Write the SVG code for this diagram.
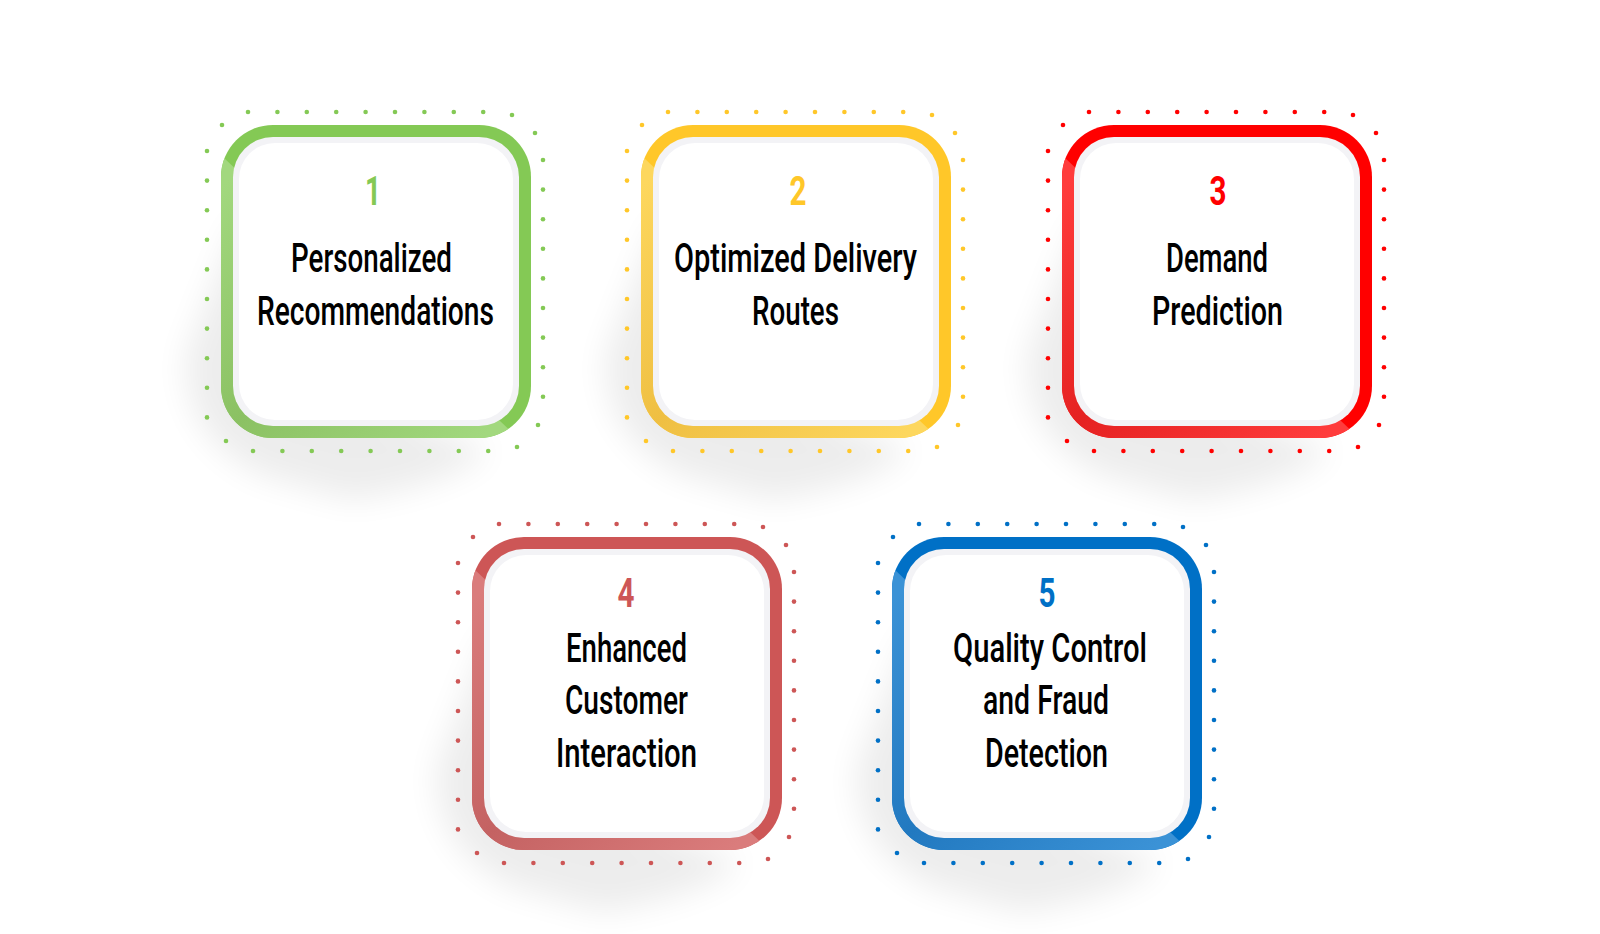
<svg xmlns="http://www.w3.org/2000/svg" xmlns:xlink="http://www.w3.org/1999/xlink" width="1600" height="934" viewBox="0 0 1600 934">
<style>
.title{font-family:Roboto,"Liberation Sans",sans-serif;font-size:40px;font-weight:500;fill:#000;text-anchor:middle}
.num{font-family:Roboto,"Liberation Sans",sans-serif;font-size:41px;font-weight:700;text-anchor:middle}
.ring2{fill:#f3f3f6}
.inner{fill:#ffffff}
.shadow{fill:#000;opacity:0.07;filter:url(#blur)}
</style>
<defs>
<filter id="blur" x="-50%" y="-50%" width="200%" height="200%"><feGaussianBlur stdDeviation="16"/></filter>
<clipPath id="lowerLeft"><polygon points="-20,11 320,335 -20,335"/></clipPath>
<linearGradient id="gGreen" x1="0" y1="0" x2="1" y2="1"><stop offset="0.1" stop-color="#a2d87e"/><stop offset="0.5" stop-color="#8bc163"/><stop offset="0.92" stop-color="#a2d87e"/></linearGradient>
<linearGradient id="gYellow" x1="0" y1="0" x2="1" y2="1"><stop offset="0.1" stop-color="#fdd75e"/><stop offset="0.5" stop-color="#efbf42"/><stop offset="0.92" stop-color="#fdd75e"/></linearGradient>
<linearGradient id="gRed" x1="0" y1="0" x2="1" y2="1"><stop offset="0.1" stop-color="#ff3c3c"/><stop offset="0.5" stop-color="#e52222"/><stop offset="0.92" stop-color="#ff3c3c"/></linearGradient>
<linearGradient id="gRose" x1="0" y1="0" x2="1" y2="1"><stop offset="0.1" stop-color="#da7c7c"/><stop offset="0.5" stop-color="#c46262"/><stop offset="0.92" stop-color="#da7c7c"/></linearGradient>
<linearGradient id="gBlue" x1="0" y1="0" x2="1" y2="1"><stop offset="0.1" stop-color="#3b92d6"/><stop offset="0.5" stop-color="#2279c0"/><stop offset="0.92" stop-color="#3b92d6"/></linearGradient>
<g id="dots" fill="currentColor">
<circle cx="1" cy="0" r="2.3"/>
<circle cx="27" cy="-13" r="2.3"/><circle cx="56.4" cy="-13" r="2.3"/><circle cx="85.8" cy="-13" r="2.3"/><circle cx="115.2" cy="-13" r="2.3"/><circle cx="144.6" cy="-13" r="2.3"/><circle cx="174" cy="-13" r="2.3"/><circle cx="203.4" cy="-13" r="2.3"/><circle cx="232.8" cy="-13" r="2.3"/><circle cx="262.2" cy="-13" r="2.3"/>
<circle cx="291" cy="-10" r="2.3"/><circle cx="314" cy="8" r="2.3"/>
<circle cx="322" cy="35" r="2.3"/><circle cx="322" cy="64.6" r="2.3"/><circle cx="322" cy="94.2" r="2.3"/><circle cx="322" cy="123.8" r="2.3"/><circle cx="322" cy="153.4" r="2.3"/><circle cx="322" cy="183" r="2.3"/><circle cx="322" cy="212.6" r="2.3"/><circle cx="322" cy="242.2" r="2.3"/><circle cx="322" cy="271.8" r="2.3"/>
<circle cx="317" cy="300" r="2.3"/><circle cx="296" cy="322" r="2.3"/>
<circle cx="32" cy="326" r="2.3"/><circle cx="61.4" cy="326" r="2.3"/><circle cx="90.8" cy="326" r="2.3"/><circle cx="120.2" cy="326" r="2.3"/><circle cx="149.6" cy="326" r="2.3"/><circle cx="179" cy="326" r="2.3"/><circle cx="208.4" cy="326" r="2.3"/><circle cx="237.8" cy="326" r="2.3"/><circle cx="267.2" cy="326" r="2.3"/>
<circle cx="5" cy="316" r="2.3"/>
<circle cx="-14" cy="26" r="2.3"/><circle cx="-14" cy="55.6" r="2.3"/><circle cx="-14" cy="85.2" r="2.3"/><circle cx="-14" cy="114.8" r="2.3"/><circle cx="-14" cy="144.4" r="2.3"/><circle cx="-14" cy="174" r="2.3"/><circle cx="-14" cy="203.6" r="2.3"/><circle cx="-14" cy="233.2" r="2.3"/><circle cx="-14" cy="262.8" r="2.3"/><circle cx="-14" cy="292.4" r="2.3"/>
</g>
<path id="shadowShape" d="M 20,90 L -35,230 Q -40,310 40,350 L 130,375 Q 230,360 270,325 L 200,300 Z"/>
<g id="face">
<rect class="ring2" x="12" y="12" width="286" height="289" rx="40"/>
<rect class="inner" x="18" y="18" width="274" height="277" rx="36"/>
</g>
</defs>
<rect width="1600" height="934" fill="#ffffff"/>

<g id="card1" transform="translate(221,125)">
<use xlink:href="#shadowShape" class="shadow"/>
<use xlink:href="#dots" color="#84c955"/>
<rect width="310" height="313" rx="52" fill="#84c955"/>
<rect width="310" height="313" rx="52" fill="url(#gGreen)" clip-path="url(#lowerLeft)"/>
<use xlink:href="#face"/>
<text class="num" x="152" y="80" fill="#84c955" textLength="16" lengthAdjust="spacingAndGlyphs">1</text>
<text class="title" x="150.5" y="147" textLength="161" lengthAdjust="spacingAndGlyphs">Personalized</text>
<text class="title" x="154.5" y="200" textLength="237" lengthAdjust="spacingAndGlyphs">Recommendations</text>
</g>

<g id="card2" transform="translate(641,125)">
<use xlink:href="#shadowShape" class="shadow"/>
<use xlink:href="#dots" color="#ffc729"/>
<rect width="310" height="313" rx="52" fill="#ffc729"/>
<rect width="310" height="313" rx="52" fill="url(#gYellow)" clip-path="url(#lowerLeft)"/>
<use xlink:href="#face"/>
<text class="num" x="157" y="80" fill="#ffc729" textLength="17" lengthAdjust="spacingAndGlyphs">2</text>
<text class="title" x="154.5" y="147" textLength="243" lengthAdjust="spacingAndGlyphs">Optimized Delivery</text>
<text class="title" x="154.5" y="200" textLength="87" lengthAdjust="spacingAndGlyphs">Routes</text>
</g>

<g id="card3" transform="translate(1062,125)">
<use xlink:href="#shadowShape" class="shadow"/>
<use xlink:href="#dots" color="#ff0000"/>
<rect width="310" height="313" rx="52" fill="#ff0000"/>
<rect width="310" height="313" rx="52" fill="url(#gRed)" clip-path="url(#lowerLeft)"/>
<use xlink:href="#face"/>
<text class="num" x="156" y="80" fill="#ff0000" textLength="17" lengthAdjust="spacingAndGlyphs">3</text>
<text class="title" x="155" y="147" textLength="102" lengthAdjust="spacingAndGlyphs">Demand</text>
<text class="title" x="155.5" y="200" textLength="131" lengthAdjust="spacingAndGlyphs">Prediction</text>
</g>

<g id="card4" transform="translate(472,537)">
<use xlink:href="#shadowShape" class="shadow"/>
<use xlink:href="#dots" color="#cd5656"/>
<rect width="310" height="313" rx="52" fill="#cd5656"/>
<rect width="310" height="313" rx="52" fill="url(#gRose)" clip-path="url(#lowerLeft)"/>
<use xlink:href="#face"/>
<text class="num" x="154" y="70" fill="#cd5656" textLength="17" lengthAdjust="spacingAndGlyphs">4</text>
<text class="title" x="154.5" y="125" textLength="121" lengthAdjust="spacingAndGlyphs">Enhanced</text>
<text class="title" x="154.5" y="177" textLength="123" lengthAdjust="spacingAndGlyphs">Customer</text>
<text class="title" x="154.5" y="230" textLength="141" lengthAdjust="spacingAndGlyphs">Interaction</text>
</g>

<g id="card5" transform="translate(892,537)">
<use xlink:href="#shadowShape" class="shadow"/>
<use xlink:href="#dots" color="#0070c6"/>
<rect width="310" height="313" rx="52" fill="#0070c6"/>
<rect width="310" height="313" rx="52" fill="url(#gBlue)" clip-path="url(#lowerLeft)"/>
<use xlink:href="#face"/>
<text class="num" x="155" y="70" fill="#0070c6" textLength="17" lengthAdjust="spacingAndGlyphs">5</text>
<text class="title" x="158" y="125" textLength="194" lengthAdjust="spacingAndGlyphs">Quality Control</text>
<text class="title" x="154" y="177" textLength="126" lengthAdjust="spacingAndGlyphs">and Fraud</text>
<text class="title" x="154.5" y="230" textLength="123" lengthAdjust="spacingAndGlyphs">Detection</text>
</g>
</svg>
